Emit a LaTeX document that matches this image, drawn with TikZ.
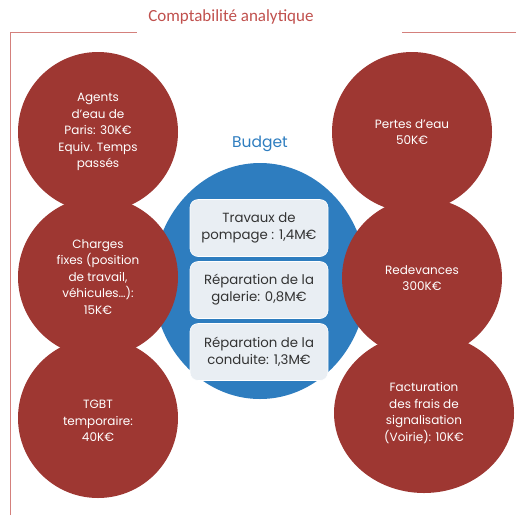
\documentclass[tikz,border=0pt]{standalone}
\usepackage{fontspec}
\setmainfont{Poppins}
\newfontfamily\titlefont{Carlito}
\usetikzlibrary{positioning, shapes.geometric}
\definecolor{costred}{HTML}{9E3732}
\definecolor{framered}{HTML}{D4807C}
\definecolor{titlered}{HTML}{C0504D}
\definecolor{budgetblue}{HTML}{2E7DBF}
\definecolor{itemfill}{HTML}{E9EEF3}

\begin{document}
\begin{tikzpicture}[
    x=1pt, y=-1pt,
    font=\fontsize{12}{16.5}\selectfont,
    cost/.style={circle, fill=costred, minimum size=160pt, inner sep=0pt,
        text=white, align=center},
    budget/.style={ellipse, fill=budgetblue, minimum width=214pt, minimum height=236pt},
    item/.style={rectangle, rounded corners=8pt, fill=itemfill, draw=white, line width=.6pt,
        minimum width=138pt, minimum height=57pt, align=center, text=black!80,
        font=\fontsize{13.3}{17}\selectfont},
    frame/.style={draw=framered, line width=.9pt}
]
\useasboundingbox (0,0) rectangle (516,515);

% titles
\node[text=titlered, font=\titlefont\fontsize{17}{19}\selectfont] (title) at (231,17) {Comptabilité analytique};
\node[text=budgetblue, font=\fontsize{15.5}{17}\selectfont] (btitle) at (260,144) {Budget};

% frame around the diagram
\coordinate (fbot) at (10,515);
\coordinate (ftopL) at (10,32);
\coordinate (gapL) at (137,32);
\coordinate (gapR) at (402,32);
\coordinate (ftopR) at (516,32);
\draw[frame] (fbot) -- (ftopL) -- (gapL);
\draw[frame] (gapR) -- (ftopR);

% budget and its items
\node[budget] (budget) at (260,281) {};
\node[item] (pompage) at (259,228) {Travaux de\\pompage : 1,4M€};
\node[item] (galerie) at (259,290) {Réparation de la\\galerie: 0,8M€};
\node[item] (conduite) at (259,352) {Réparation de la\\conduite: 1,3M€};

% costs, left column
\node[cost] (agents) at (98,132) {Agents\\d'eau de\\Paris: 30K€\\Equiv. Temps\\passés};
\node[cost] (charges) at (98,277) {Charges\\fixes (position\\de travail,\\véhicules…):\\15K€};
\node[cost] (tgbt) at (98,418) {\\[-2pt]TGBT\\temporaire:\\40K€};

% costs, right column
\node[cost] (pertes) at (412,132) {Pertes d’eau\\50K€};
\node[cost] (redevances) at (422,278) {Redevances\\300K€};
\node[cost, ellipse, minimum width=180pt, minimum height=160pt] (facturation) at (424,413)
    {Facturation\\des frais de\\signalisation\\(Voirie): 10K€};
\end{tikzpicture}
\end{document}
